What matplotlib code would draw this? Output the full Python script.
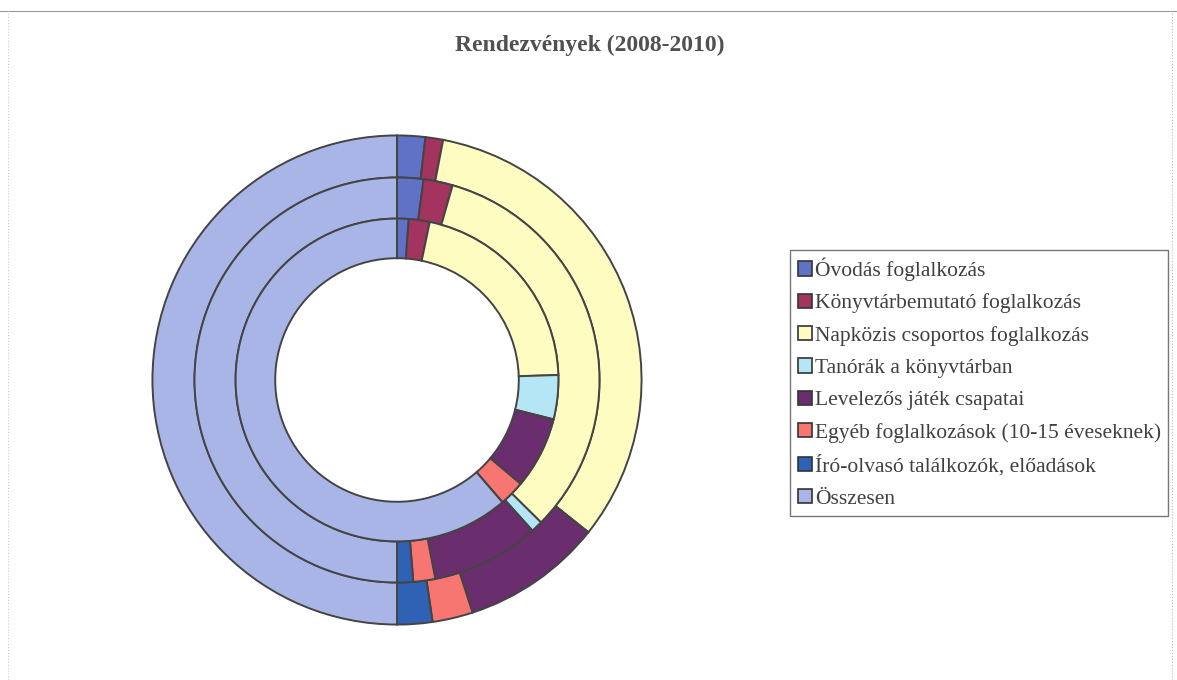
import matplotlib.pyplot as plt
from matplotlib.patches import Patch

# categories (legend order) and values per ring
categories = ['Óvodás foglalkozás', 'Könyvtárbemutató foglalkozás',
              'Napközis csoportos foglalkozás', 'Tanórák a könyvtárban',
              'Levelezős játék csapatai', 'Egyéb foglalkozások (10-15 éveseknek)',
              'Író-olvasó találkozók, előadások', 'Összesen']
vals_2008 = [10, 18, 183, 38, 62, 22, 0, 528]
vals_2009 = [18, 20, 283, 8, 74, 15, 11, 429]
vals_2010 = [16, 10, 281, 0, 80, 23, 20, 430]

colors = ['#5f72c6', '#a3335f', '#fffcc2', '#b4e6f5',
          '#6a2d6e', '#f77672', '#2f62b5', '#a9b5e6']

W, H = 1177, 680
fig = plt.figure(figsize=(W / 100, H / 100), dpi=100)

# pie axes: centre (397, 380) px, outer radius 247 px
cx, cy, R = 397, 380, 247
ax = fig.add_axes([(cx - R) / W, 1 - (cy + R) / H, 2 * R / W, 2 * R / H])

rings = [(vals_2010, 1.0, 0.172), (vals_2009, 0.828, 0.168), (vals_2008, 0.66, 0.162)]
for vals, rad, wid in rings:
    ax.pie(vals, radius=rad, colors=colors, startangle=90, counterclock=False,
           wedgeprops=dict(width=wid, edgecolor='#444444', linewidth=1.4))
ax.set_xlim(-1.01, 1.01)
ax.set_ylim(-1.01, 1.01)
ax.set_aspect('equal')
ax.axis('off')

fig.text(590 / W, 1 - 45 / H, 'Rendezvények (2008-2010)', ha='center', va='center',
         fontsize=17, fontweight='bold', family='Liberation Serif', color='#505050')

handles = [Patch(facecolor=c, edgecolor='#333333', linewidth=1.2) for c in colors]
leg = fig.legend(handles, categories, loc='upper left',
                 bbox_to_anchor=(790 / W, 1 - 250 / H),
                 prop={'family': 'Liberation Serif', 'size': 15.5},
                 frameon=True, fancybox=False, edgecolor='#555555',
                 handlelength=0.65, handleheight=0.65, handletextpad=0.15,
                 labelspacing=0.58, borderpad=0.35, borderaxespad=0)
leg.get_frame().set_linewidth(1.0)
for t in leg.get_texts():
    t.set_color('#404040')

# faint page border like the scan
fig.add_artist(plt.Line2D([0, 1], [1 - 11 / H, 1 - 11 / H], color='#999999', lw=0.8))
fig.add_artist(plt.Line2D([1172 / W, 1172 / W], [0, 1 - 11 / H], color='#bbbbbb', lw=0.8, ls=':'))
fig.add_artist(plt.Line2D([8 / W, 8 / W], [0, 1 - 11 / H], color='#cccccc', lw=0.8, ls=':'))

fig.savefig('out.png', dpi=100)
